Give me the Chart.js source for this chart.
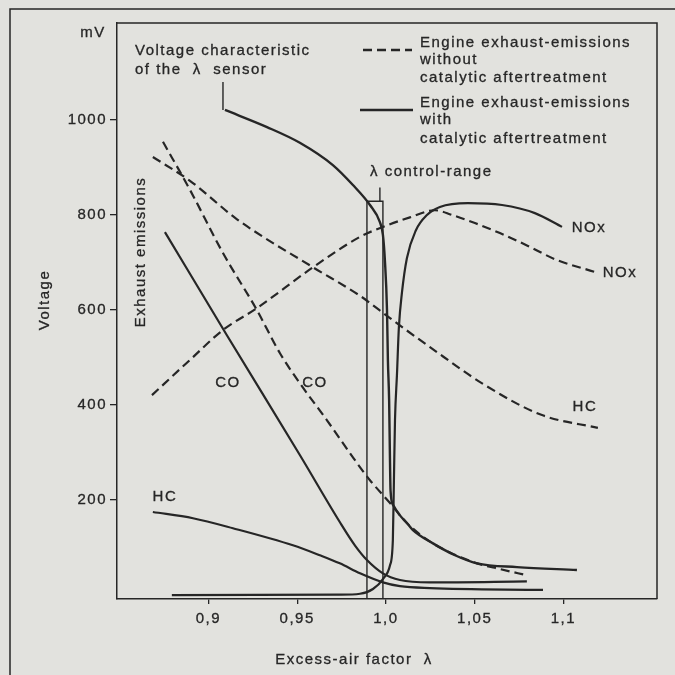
<!DOCTYPE html>
<html><head><meta charset="utf-8">
<script src="https://cdn.jsdelivr.net/npm/chart.js@4.4.1/dist/chart.umd.min.js"></script>
<style>
html,body{margin:0;padding:0;background:#e2e2de;}
#wrap{width:675px;height:675px;}
</style></head><body>
<div id="wrap"><canvas id="c" width="675" height="675"></canvas></div>
<script>
// ---- tick definitions ----
const xTicks = [0.9, 0.95, 1.0, 1.05, 1.1];
const xTickLabels = ['0,9', '0,95', '1,0', '1,05', '1,1'];
const yTicks = [200, 400, 600, 800, 1000];

// ---- series: [lambda, value] ----
const voltage = [[0.9093,1021],[0.933,985],[0.9515,952],[0.9701,905],[0.9814,863],[0.991,821],[0.9966,785],[0.9983,758],[0.9994,705],[1.0006,600],[1.0011,495],[1.0018,410],[1.0022,305],[1.0026,220],[1.0040,190],[1.0079,168],[1.0118,152],[1.0152,137],[1.0265,109],[1.0389,84],[1.0513,67],[1.0738,59],[1.1076,53]];
const coWith = [[0.8755,764],[0.9104,547],[0.9515,295],[0.974,154],[0.9825,105],[0.9893,74],[0.9983,46],[1.0079,32],[1.0248,27],[1.0794,29]];
const hcWith = [[0.8687,175],[0.8913,162],[0.9138,141],[0.9476,105],[0.9628,84],[0.974,67],[0.9854,46],[0.9983,27],[1.0079,19],[1.0248,15],[1.0885,11]];
const noxWith = [[0.8794,0],[0.974,1],[0.9854,3],[0.9927,13],[0.9983,34],[1.0023,63],[1.0039,116],[1.0045,242],[1.0051,368],[1.0062,463],[1.0073,564],[1.009,636],[1.0118,709],[1.0169,768],[1.0231,800],[1.0304,817],[1.0462,825],[1.0654,821],[1.0839,804],[1.0992,775]];
const coWithout = [[0.8744,954],[0.8896,853],[0.9082,720],[0.9273,600],[0.9403,509],[0.9515,446],[0.9668,368],[0.9814,290],[0.991,242],[1.0023,194],[1.0118,152],[1.0265,109],[1.0513,67],[1.0642,55],[1.0794,42]];
const hcWithout = [[0.8687,922],[0.8896,872],[0.9161,791],[0.9589,690],[0.9854,630],[1.0023,583],[1.0248,522],[1.0558,442],[1.0879,379],[1.1194,352]];
const noxWithout = [[0.8682,421],[0.8896,495],[0.9082,558],[0.9273,604],[0.9589,690],[0.9854,754],[0.9983,775],[1.0135,795],[1.0276,810],[1.0372,800],[1.0501,783],[1.0642,762],[1.08,735],[1.0952,707],[1.1177,680]];
const controlRange = [[0.9893,-8],[0.9893,829],[0.9983,829],[0.9983,-8]];
const controlLeader = [[0.9966,829],[0.9966,858]];
const voltageLeader = [[0.9082,1021],[0.9082,1080]];

// ---- curve labels (data coords) ----
const curveLabels = [
  ['CO', 0.911, 446], ['CO', 0.960, 446], ['HC', 0.8755, 206], ['HC', 1.1121, 396],
  ['NOx', 1.1144, 773], ['NOx', 1.1318, 678]
];

const INK = '#262626';
const FONT = '"Liberation Sans", Arial, sans-serif';
const pts = a => a.map(p => ({x: p[0], y: p[1]}));

function solid(data, w) {
  return {data: pts(data), borderColor: INK, borderWidth: w || 2.2, pointRadius: 0,
    fill: false, cubicInterpolationMode: 'monotone'};
}
function dashed(data) {
  return {data: pts(data), borderColor: INK, borderWidth: 2.2, pointRadius: 0,
    fill: false, borderDash: [9, 5], cubicInterpolationMode: 'monotone'};
}
function thin(data) {
  return {data: pts(data), borderColor: INK, borderWidth: 1.4, pointRadius: 0, fill: false, tension: 0};
}

function txt(ctx, s, x, y) {
  ctx.strokeText(s, x, y);
  ctx.fillText(s, x, y);
}

const deco = {
  id: 'deco',
  beforeDraw(chart) {
    const ctx = chart.ctx;
    ctx.save();
    ctx.fillStyle = '#e2e2de';
    ctx.fillRect(0, 0, chart.width, chart.height);
    ctx.restore();
    ctx.letterSpacing = '1.5px';
  },
  afterDraw(chart) {
    const ctx = chart.ctx;
    const a = chart.chartArea;
    const xs = chart.scales.x, ys = chart.scales.y;
    ctx.save();
    ctx.letterSpacing = '1.5px';
    ctx.strokeStyle = INK;
    // inner frame top/right
    ctx.lineWidth = 1.5;
    ctx.beginPath();
    ctx.moveTo(a.left, a.top); ctx.lineTo(a.right, a.top); ctx.lineTo(a.right, a.bottom);
    ctx.stroke();
    // outer frame
    ctx.beginPath();
    ctx.moveTo(10, 675); ctx.lineTo(10, 9); ctx.lineTo(675, 9);
    ctx.stroke();

    ctx.fillStyle = INK;
    ctx.lineWidth = 0.3;
    ctx.textBaseline = 'middle';
    ctx.font = '15px ' + FONT;
    // mV
    ctx.textAlign = 'center';
    txt(ctx, 'mV', 93, 33);
    // axis titles
    ctx.save(); ctx.translate(45, 300); ctx.rotate(-Math.PI / 2);
    txt(ctx, 'Voltage', 0, 0); ctx.restore();
    ctx.save(); ctx.translate(141, 252); ctx.rotate(-Math.PI / 2);
    txt(ctx, 'Exhaust emissions', 0, 0); ctx.restore();
    txt(ctx, 'Excess-air factor  \u03bb', 354, 660);
    // annotations
    ctx.textAlign = 'left';
    txt(ctx, 'Voltage characteristic', 135, 51);
    txt(ctx, 'of the  \u03bb  sensor', 135, 70);
    txt(ctx, '\u03bb control-range', 370, 172);
    // legend
    txt(ctx, 'Engine exhaust-emissions', 420, 43);
    txt(ctx, 'without', 420, 60);
    txt(ctx, 'catalytic aftertreatment', 420, 78);
    txt(ctx, 'Engine exhaust-emissions', 420, 103);
    txt(ctx, 'with', 420, 120);
    txt(ctx, 'catalytic aftertreatment', 420, 139);
    ctx.lineWidth = 2.4;
    ctx.setLineDash([9, 5]);
    ctx.beginPath(); ctx.moveTo(363, 50); ctx.lineTo(412, 50); ctx.stroke();
    ctx.setLineDash([]);
    ctx.beginPath(); ctx.moveTo(360, 110); ctx.lineTo(413, 110); ctx.stroke();
    // curve labels
    ctx.lineWidth = 0.3;
    ctx.textAlign = 'center';
    curveLabels.forEach(l => {
      txt(ctx, l[0], xs.getPixelForValue(l[1]), ys.getPixelForValue(l[2]));
    });
    ctx.restore();
  }
};

new Chart(document.getElementById('c'), {
  type: 'line',
  data: {
    datasets: [
      solid(voltage, 2.4), solid(coWith), solid(hcWith), solid(noxWith),
      dashed(coWithout), dashed(hcWithout), dashed(noxWithout),
      thin(controlRange), thin(controlLeader), thin(voltageLeader)
    ]
  },
  options: {
    responsive: false,
    animation: false,
    devicePixelRatio: 1,
    layout: {padding: {top: 23, right: 18, left: 0, bottom: 0}},
    plugins: {legend: {display: false}, tooltip: {enabled: false}},
    scales: {
      x: {
        type: 'linear', min: 0.8485, max: 1.1527,
        afterBuildTicks: s => { s.ticks = xTicks.map(v => ({value: v})); },
        afterFit: s => { s.height = 76; },
        ticks: {autoSkip: false, maxRotation: 0, color: INK, padding: 6,
          textStrokeColor: INK, textStrokeWidth: 0.3,
          font: {family: FONT, size: 15},
          callback: (v, i) => xTickLabels[i]},
        grid: {drawOnChartArea: false, drawTicks: true, tickLength: 5, color: INK, lineWidth: 1.3},
        border: {display: true, color: INK, width: 1.5}
      },
      y: {
        type: 'linear', min: -8, max: 1204,
        afterBuildTicks: s => { s.ticks = yTicks.map(v => ({value: v})); },
        afterFit: s => { s.width = 117; },
        ticks: {color: INK, padding: 3, font: {family: FONT, size: 15},
          textStrokeColor: INK, textStrokeWidth: 0.3,
          callback: v => String(v)},
        grid: {drawOnChartArea: false, drawTicks: true, tickLength: 7, color: INK, lineWidth: 1.3},
        border: {display: true, color: INK, width: 1.5}
      }
    }
  },
  plugins: [deco]
});
</script>
</body></html>
